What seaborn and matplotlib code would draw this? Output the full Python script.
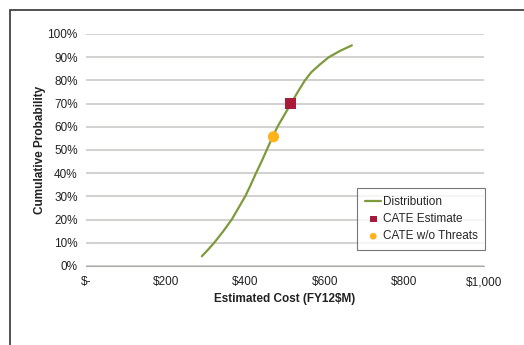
import matplotlib
matplotlib.use("Agg")
import matplotlib.pyplot as plt
import matplotlib.patches as mpatches
from matplotlib.ticker import FuncFormatter
import seaborn as sns
import pandas as pd

# cumulative distribution of estimated cost (FY12 $M)
dist_cost = [291, 306, 322, 345, 366, 383, 400, 414, 427, 441, 454, 467, 481,
             498, 515, 532, 550, 566, 588, 610, 638, 668]
dist_prob = [0.042, 0.069, 0.10, 0.15, 0.20, 0.25, 0.30, 0.35, 0.40, 0.45, 0.50,
             0.55, 0.60, 0.65, 0.70, 0.75, 0.80, 0.835, 0.869, 0.90, 0.927, 0.951]

cate_cost = [513]
cate_prob = [0.70]
nothreat_cost = [471]
nothreat_prob = [0.557]

x_ticks = [0, 200, 400, 600, 800, 1000]
x_labels = ["$-", "$200", "$400", "$600", "$800", "$1,000"]

line_color = "#7f9a3c"
cate_color = "#a8193a"
nothreat_color = "#ffb21a"

sns.set_style("white")
plt.rcParams["font.family"] = "Liberation Sans"

fig = plt.figure(figsize=(5.24, 3.45), dpi=100)
ax = fig.add_axes([86 / 524, 1 - 266 / 345, 398 / 524, 232 / 345])

dist = pd.DataFrame({"cost": dist_cost, "prob": dist_prob})
sns.lineplot(data=dist, x="cost", y="prob", ax=ax, color=line_color,
             linewidth=1.6, label="Distribution", zorder=3,
             solid_joinstyle="round", solid_capstyle="round")
sns.scatterplot(x=cate_cost, y=cate_prob, ax=ax, color=cate_color, marker="s",
                s=65, edgecolor="none", label="CATE Estimate", zorder=4)
sns.scatterplot(x=nothreat_cost, y=nothreat_prob, ax=ax, color=nothreat_color,
                marker="o", s=65, edgecolor="none", label="CATE w/o Threats", zorder=4)

ax.set_xlim(0, 1000)
ax.set_ylim(0, 1)
ax.set_xticks(x_ticks)
ax.set_xticklabels(x_labels)
ax.set_yticks([i / 10 for i in range(11)])
ax.yaxis.set_major_formatter(FuncFormatter(lambda v, p: f"{v * 100:.0f}%"))
ax.grid(axis="y", color="#c8c4c4", linewidth=1.1)
ax.set_axisbelow(True)
for side in ["left", "right", "top"]:
    ax.spines[side].set_visible(False)
ax.spines["bottom"].set_color("#b0acac")
ax.tick_params(axis="both", labelsize=8.5, colors="#222222", length=0)
ax.tick_params(axis="x", pad=14)
ax.tick_params(axis="y", pad=6)

ax.set_xlabel("Estimated Cost (FY12$M)", fontsize=8.5, fontweight="bold", color="#222222", labelpad=3)
ax.set_ylabel("Cumulative Probability", fontsize=8.5, fontweight="bold", color="#222222", labelpad=1)

leg = ax.legend(loc="lower right", bbox_to_anchor=(1.003, 0.069), borderaxespad=0,
                fontsize=8.5, frameon=True, fancybox=False, edgecolor="#555555",
                handlelength=1.4, handletextpad=0.1, borderpad=0.65,
                labelspacing=0.45, markerscale=0.6)
leg.get_frame().set_linewidth(0.8)

# outer frame of the exhibit
frame = mpatches.Rectangle((10 / 524, -0.2), 1.2, 1.2 - 10 / 345,
                           transform=fig.transFigure, fill=False,
                           edgecolor="#333333", linewidth=1.2)
fig.patches.append(frame)

fig.canvas.draw()
for tick in ax.xaxis.get_major_ticks():
    tick.label1.set_verticalalignment("baseline")

fig.savefig("out.png", dpi=100)
